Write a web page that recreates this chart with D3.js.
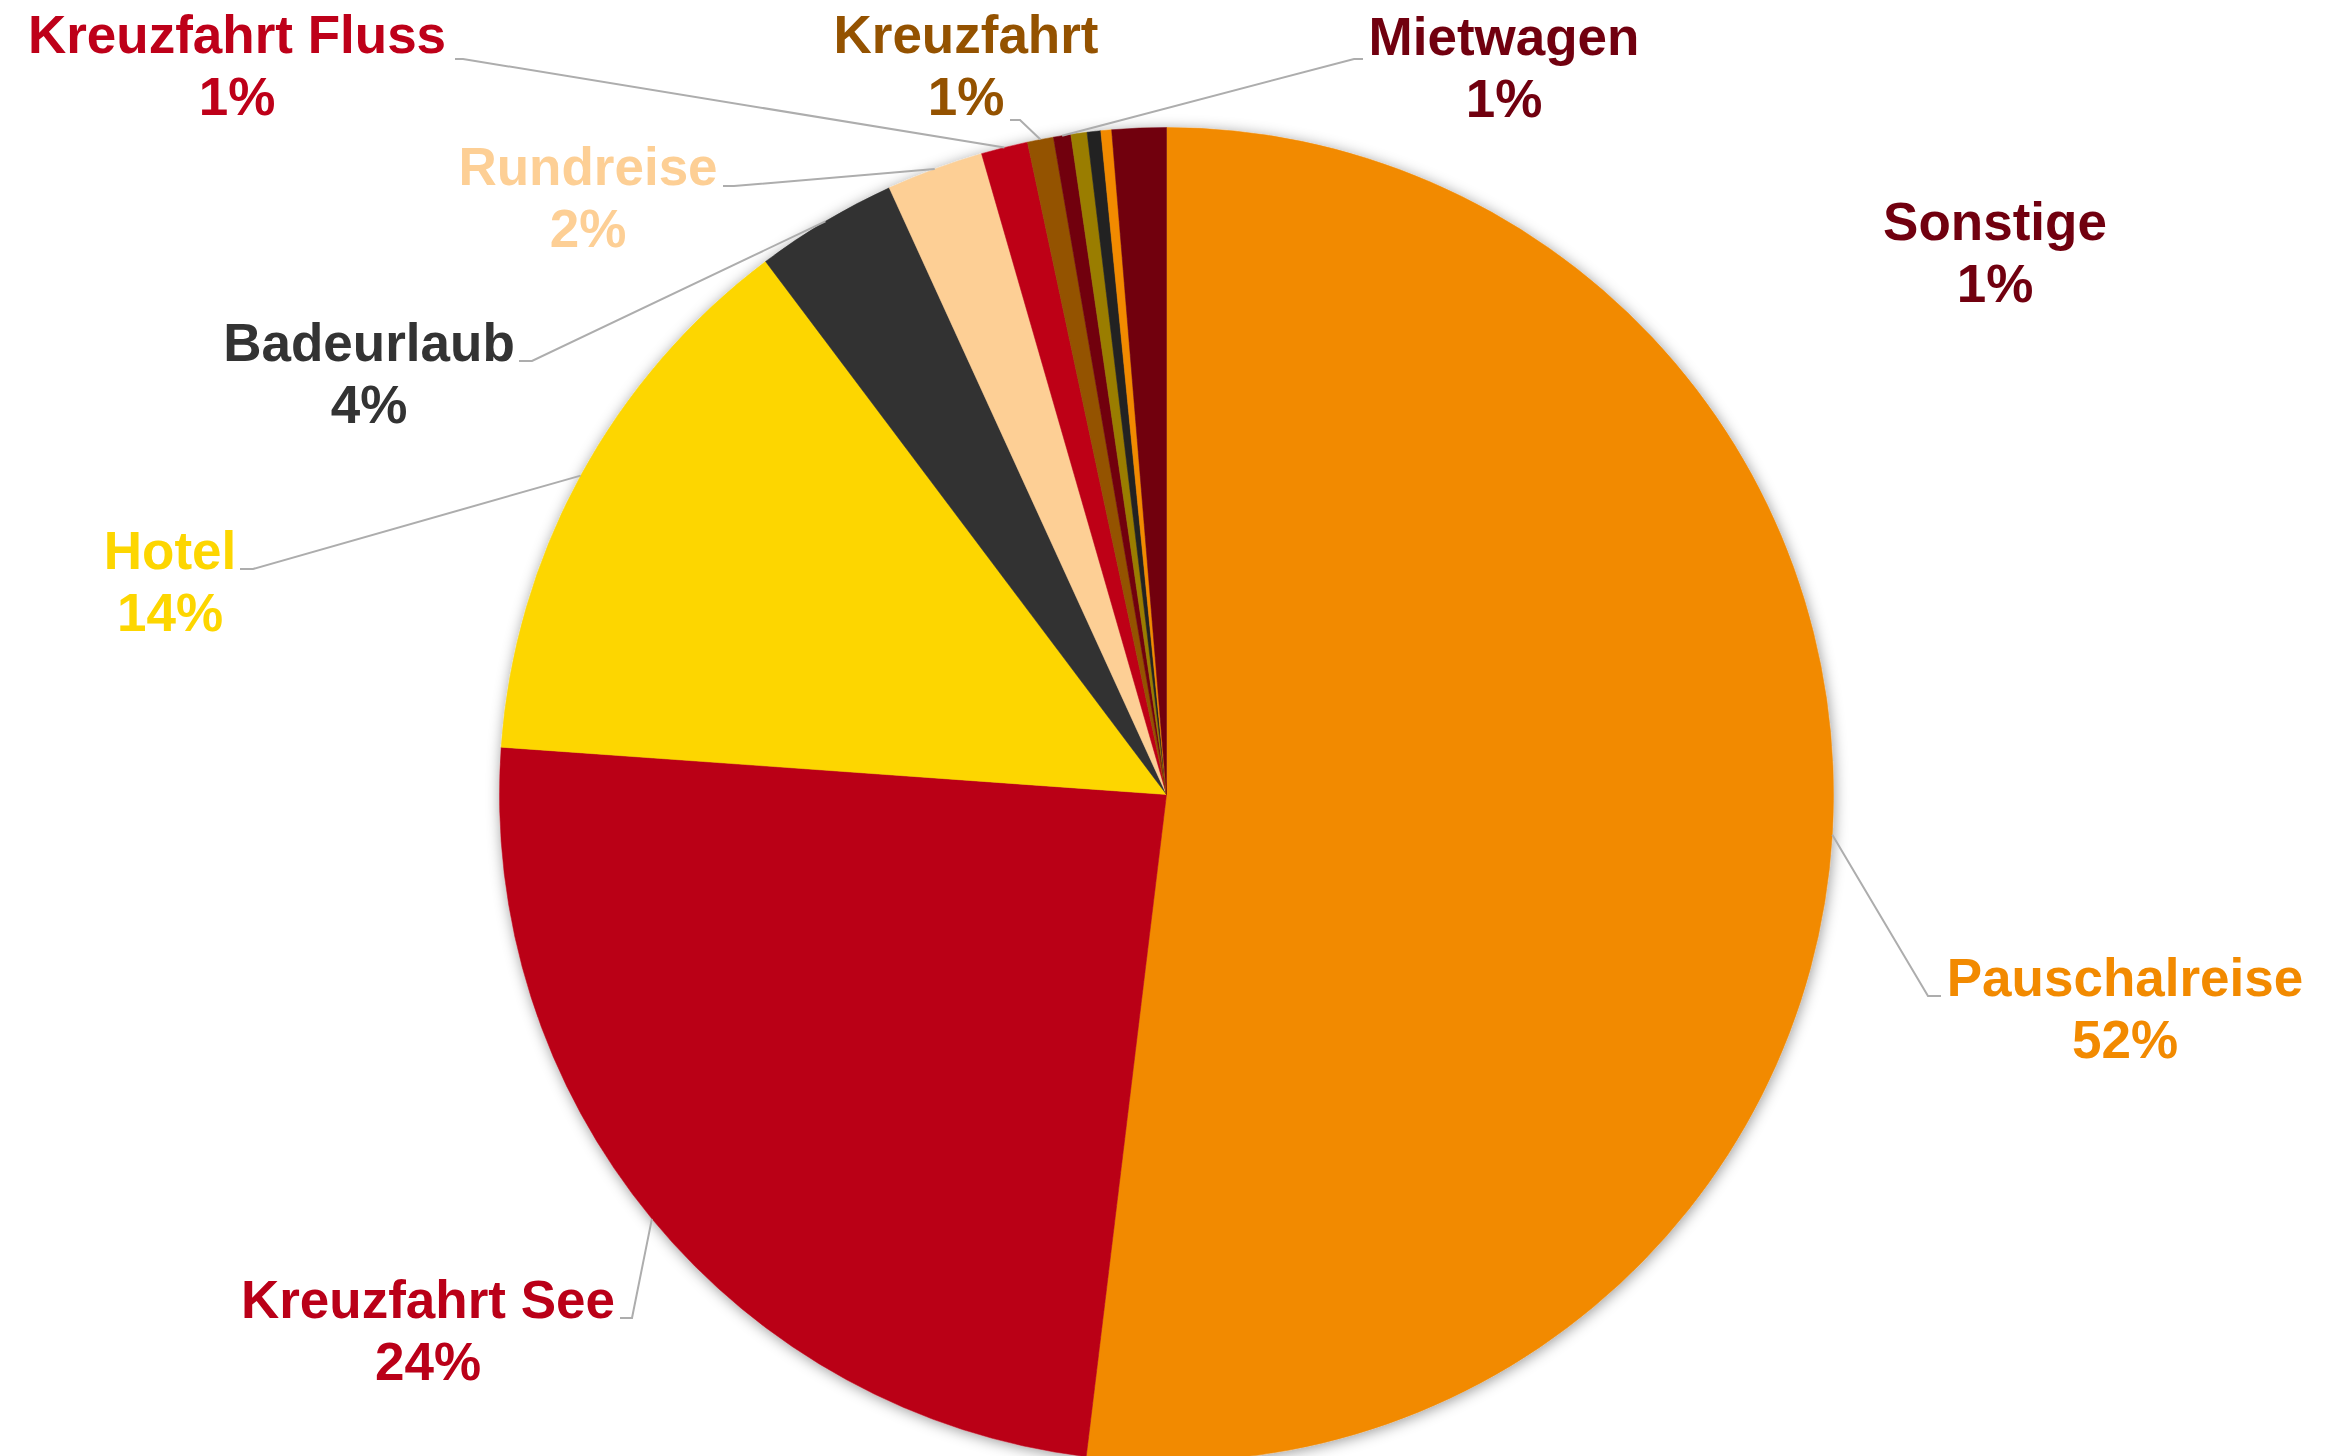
<!DOCTYPE html>
<html>
<head>
<meta charset="utf-8">
<script src="https://cdn.jsdelivr.net/npm/d3@7"></script>
<style>
  html, body { margin: 0; padding: 0; background: #ffffff; }
  svg { display: block; }
  text { font-family: "Liberation Sans", Arial, sans-serif; font-weight: bold; }
</style>
</head>
<body>
<svg id="chart" width="2351" height="1456"></svg>
<script>
// ---- Data (clockwise from 12 o'clock) ----
const categories = ["Pauschalreise", "Kreuzfahrt See", "Hotel", "Badeurlaub", "Rundreise",
  "Kreuzfahrt Fluss", "Kreuzfahrt", "Mietwagen", "", "", "", "Sonstige"];
const values = [51.9, 24.2, 13.6, 3.44, 2.35, 1.13, 0.63, 0.42, 0.39, 0.33, 0.26, 1.31];
const percentLabels = ["52%", "24%", "14%", "4%", "2%", "1%", "1%", "1%", "", "", "", "1%"];

// ---- Styles ----
const sliceColors = ["#F28A00", "#BA0018", "#FDD600", "#333333", "#FDCF95",
  "#BE0019", "#945200", "#71000F", "#9A7D00", "#222222", "#F28A00", "#71000F"];
const labelColors = ["#F28A00", "#BA0018", "#FDD600", "#333333", "#FDCF95",
  "#BE0019", "#945200", "#71000F", null, null, null, "#71000F"];

// ---- Layout ----
const cx = 1166.5, cy = 794.5, radius = 667;
const fontSize = 53, lineGap = 62;
// label center x, first baseline y; leader anchor (ax, ay) and stub end sx (null = no leader)
const labelLayout = [
  { x: 2125, y: 996, ax: 1941, ay: 996, sx: 1928 },
  { x: 428, y: 1318, ax: 620, ay: 1318, sx: 632 },
  { x: 170, y: 569, ax: 240, ay: 569, sx: 253 },
  { x: 369, y: 361, ax: 519, ay: 361, sx: 532 },
  { x: 588, y: 185, ax: 723, ay: 186, sx: 734 },
  { x: 237, y: 53, ax: 455, ay: 59, sx: 463 },
  { x: 966, y: 53, ax: 1010, ay: 120, sx: 1020 },
  { x: 1504, y: 55, ax: 1363, ay: 59, sx: 1354 },
  null, null, null,
  { x: 1995, y: 240, ax: null }
];

const svg = d3.select("#chart");
svg.append("rect").attr("width", 2351).attr("height", 1456).attr("fill", "#ffffff");

const defs = svg.append("defs");
const filt = defs.append("filter").attr("id", "shadow")
  .attr("x", "-10%").attr("y", "-10%").attr("width", "120%").attr("height", "120%");
filt.append("feDropShadow").attr("dx", 1).attr("dy", 2).attr("stdDeviation", 7)
  .attr("flood-color", "#000000").attr("flood-opacity", 0.4);

const pie = d3.pie().sort(null).value(d => d)(values);
const arc = d3.arc().innerRadius(0).outerRadius(radius);

const g = svg.append("g").attr("transform", `translate(${cx},${cy})`);
const shadowG = g.append("g").attr("filter", "url(#shadow)");
shadowG.selectAll("path.slice")
  .data(pie)
  .join("path")
  .attr("class", "slice")
  .attr("d", arc)
  .attr("fill", (d, i) => sliceColors[i])
  .attr("stroke", (d, i) => sliceColors[i])
  .attr("stroke-width", 0.5);

// Leader lines
const leaders = svg.append("g");
pie.forEach((d, i) => {
  const L = labelLayout[i];
  if (!L || L.ax == null) return;
  const mid = (d.startAngle + d.endAngle) / 2;
  const ex = cx + Math.sin(mid) * radius;
  const ey = cy - Math.cos(mid) * radius;
  const p = d3.path();
  p.moveTo(L.ax, L.ay);
  p.lineTo(L.sx, L.ay);
  p.lineTo(ex, ey);
  leaders.append("path")
    .attr("d", p.toString())
    .attr("fill", "none")
    .attr("stroke", "#ADADAD")
    .attr("stroke-width", 2);
});

// Labels
const labels = svg.append("g");
categories.forEach((name, i) => {
  const L = labelLayout[i];
  if (!L || !name) return;
  const t = labels.append("text")
    .attr("text-anchor", "middle")
    .attr("font-size", fontSize)
    .attr("fill", labelColors[i]);
  t.append("tspan").attr("x", L.x).attr("y", L.y).text(name);
  t.append("tspan").attr("x", L.x).attr("y", L.y + lineGap).text(percentLabels[i]);
});
</script>
</body>
</html>
